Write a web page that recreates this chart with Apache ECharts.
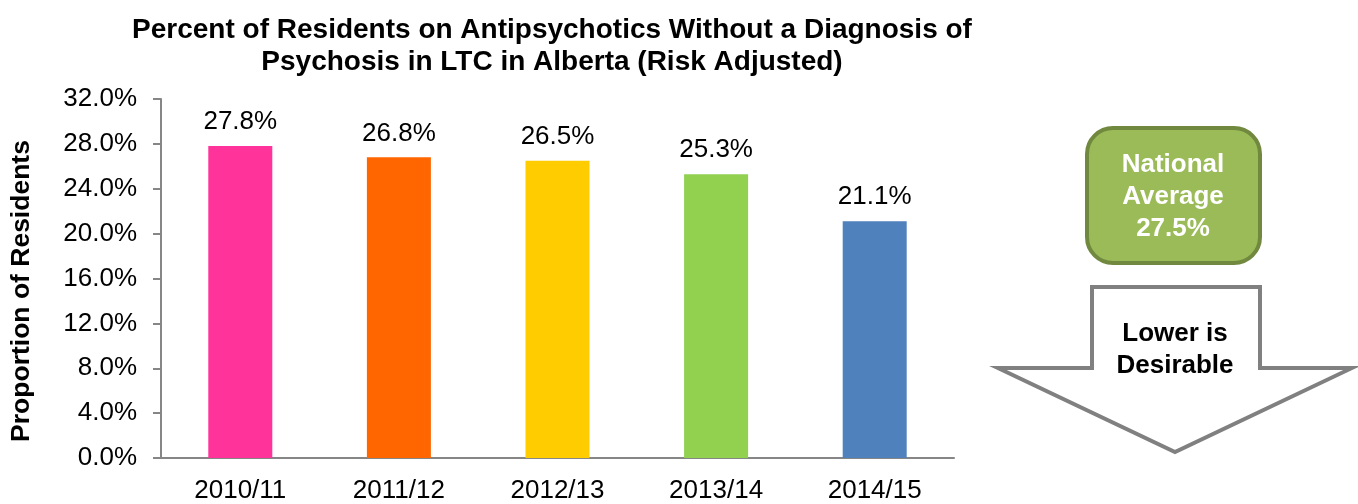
<!DOCTYPE html>
<html>
<head>
<meta charset="utf-8">
<script src="https://cdn.jsdelivr.net/npm/echarts@6/dist/echarts.min.js"></script>
<style>html,body{margin:0;padding:0;background:#fff}#c{width:1358px;height:504px}</style>
</head>
<body>
<div id="c"></div>
<script>
const categories = ['2010/11', '2011/12', '2012/13', '2013/14', '2014/15'];
const values = [27.8, 26.8, 26.5, 25.3, 21.1];
const barColors = ['#FF3399', '#FF6600', '#FFCC00', '#92D050', '#4F81BD'];
const yTicks = { min: 0, max: 32, interval: 4 };
const titleText = 'Percent of Residents on Antipsychotics Without a Diagnosis of\nPsychosis in LTC in Alberta (Risk Adjusted)';
const yAxisName = 'Proportion of Residents';
const nationalAverage = 27.5;

const FONT = '"Liberation Sans", Arial, sans-serif';
const chart = echarts.init(document.getElementById('c'));
chart.setOption({
  backgroundColor: '#fff',
  animation: false,
  title: {
    text: titleText,
    left: 547, top: 9, textAlign: 'center',
    textStyle: { fontFamily: FONT, fontSize: 28, fontWeight: 'bold', color: '#000', lineHeight: 32 }
  },
  grid: { left: 161, right: 404, top: 99, bottom: 44, containLabel: false },
  xAxis: {
    type: 'category', data: categories,
    axisLine: { lineStyle: { color: '#868686', width: 2 } },
    axisTick: { show: false },
    axisLabel: { fontFamily: FONT, fontSize: 26, color: '#000', margin: 20 }
  },
  yAxis: {
    type: 'value', min: yTicks.min, max: yTicks.max, interval: yTicks.interval,
    axisLine: { show: true, lineStyle: { color: '#868686', width: 2 } },
    axisTick: { show: true, length: 8, lineStyle: { color: '#868686', width: 2 } },
    splitLine: { show: false },
    axisLabel: { fontFamily: FONT, fontSize: 26, color: '#000', margin: 24,
      formatter: v => v.toFixed(1) + '%' }
  },
  series: [{
    type: 'bar',
    data: values.map((v, i) => ({ value: v, itemStyle: { color: barColors[i] } })),
    barWidth: 64,
    label: { show: true, position: 'top', distance: 11, fontFamily: FONT, fontSize: 26, color: '#000',
      formatter: p => p.value.toFixed(1) + '%' }
  }],
  graphic: [
    { type: 'text', x: 22, y: 291, rotation: Math.PI / 2,
      style: { text: yAxisName, fontFamily: FONT, fontSize: 26.5, fontWeight: 'bold', fill: '#000',
        align: 'center', verticalAlign: 'middle' } },
    { type: 'rect', shape: { x: 1087, y: 128, width: 173, height: 135, r: 26 },
      style: { fill: '#9BBB59', stroke: '#71893F', lineWidth: 4 } },
    { type: 'text', x: 1173, y: 197,
      style: { text: 'National\nAverage\n' + nationalAverage.toFixed(1) + '%', fontFamily: FONT, fontSize: 26,
        fontWeight: 'bold', fill: '#fff', align: 'center', verticalAlign: 'middle', lineHeight: 32 } },
    { type: 'polygon',
      shape: { points: [[1092, 287], [1260, 287], [1260, 368], [1352, 368], [1175, 452], [998, 368], [1092, 368]] },
      style: { fill: '#fff', stroke: '#808080', lineWidth: 4 } },
    { type: 'text', x: 1175, y: 350,
      style: { text: 'Lower is\nDesirable', fontFamily: FONT, fontSize: 26, fontWeight: 'bold', fill: '#000',
        align: 'center', verticalAlign: 'middle', lineHeight: 32 } }
  ]
});
</script>
</body>
</html>
